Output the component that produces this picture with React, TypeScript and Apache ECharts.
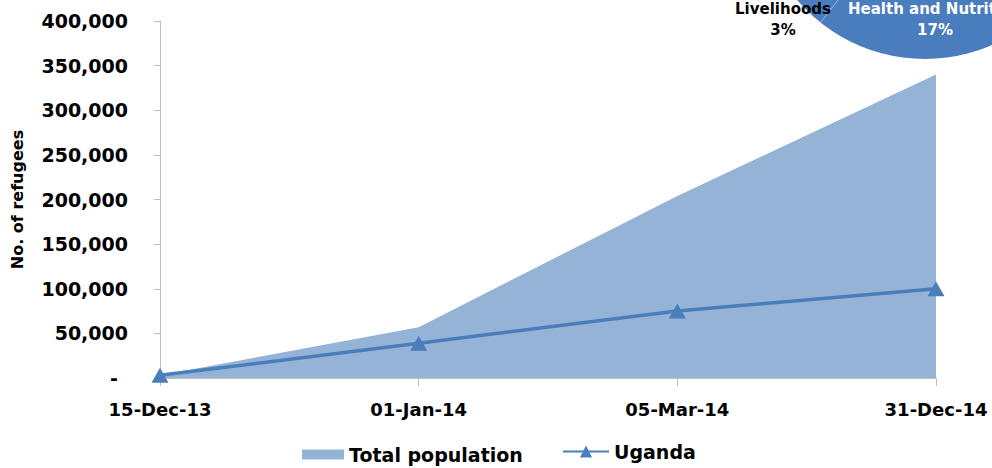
import React, { useEffect, useRef } from "react";
import * as echarts from "echarts";

const categories = ["15-Dec-13", "01-Jan-14", "05-Mar-14", "31-Dec-14"];
const totalPopulation = [3000, 57000, 204000, 340000];
const uganda = [3000, 39000, 75000, 100000];
const yTicks = { min: 0, max: 400000, interval: 50000 };
const pieLabels = [
  { name: "Livelihoods", pct: "3%" },
  { name: "Health and Nutrition", pct: "17%" },
];

const FONT = "DejaVu Sans";

export default function App() {
  const ref = useRef<HTMLDivElement>(null);
  useEffect(() => {
    if (!ref.current) return;
    const chart = echarts.init(ref.current, undefined, { renderer: "svg" });
    const fmt = (v: number) =>
      v === 0 ? "{d|-}" : v.toLocaleString("en-US");
    chart.setOption({
      animation: false,
      backgroundColor: "#ffffff",
      textStyle: { fontFamily: FONT },
      grid: {
        left: 160,
        right: 56,
        top: 21,
        bottom: 90,
        containLabel: false,
        outerBoundsMode: "none",
      },
      legend: [
        {
          data: [{ name: "Total population", icon: "rect" }],
          left: 297,
          top: 440,
          itemWidth: 42,
          itemHeight: 10,
          itemGap: 8,
          textStyle: { fontFamily: FONT, fontWeight: "bold", fontSize: 19, color: "#000" },
        },
        {
          data: [{ name: "Uganda" }],
          left: 557,
          top: 437,
          itemWidth: 46,
          itemHeight: 15,
          itemGap: 5,
          textStyle: { fontFamily: FONT, fontWeight: "bold", fontSize: 19, color: "#000" },
        },
      ],
      xAxis: {
        type: "category",
        data: categories,
        boundaryGap: false,
        axisLine: { lineStyle: { color: "#bfbfbf", width: 1 } },
        axisTick: { show: true, length: 8, lineStyle: { color: "#bfbfbf" } },
        axisLabel: {
          color: "#000",
          fontFamily: FONT,
          fontWeight: "bold",
          fontSize: 18,
          margin: 22,
        },
        splitLine: { show: false },
      },
      yAxis: {
        type: "value",
        min: yTicks.min,
        max: yTicks.max,
        interval: yTicks.interval,
        name: "No. of refugees",
        nameLocation: "middle",
        nameGap: 135,
        nameRotate: 90,
        nameTextStyle: { color: "#000", fontFamily: FONT, fontWeight: "bold", fontSize: 16 },
        axisLine: { show: true, lineStyle: { color: "#bfbfbf", width: 1 } },
        axisTick: { show: true, length: 6, lineStyle: { color: "#bfbfbf" } },
        splitLine: { show: false },
        axisLabel: {
          color: "#000",
          fontFamily: FONT,
          fontWeight: "bold",
          fontSize: 19,
          margin: 32,
          formatter: fmt,
          rich: { d: { fontFamily: FONT, fontWeight: "bold", fontSize: 19, color: "#000", padding: [0, 10, 0, 0] } },
        },
      },
      series: [
        {
          name: "Total population",
          type: "line",
          data: totalPopulation,
          showSymbol: false,
          symbol: "none",
          lineStyle: { width: 0, color: "#95b3d7" },
          itemStyle: { color: "#95b3d7" },
          areaStyle: { color: "#95b3d7", opacity: 1 },
          z: 1,
        },
        {
          name: "Uganda",
          type: "line",
          data: uganda,
          symbol: "triangle",
          symbolSize: [17, 15],
          lineStyle: { width: 3.5, color: "#4a7ebb" },
          itemStyle: { color: "#4a7ebb" },
          z: 3,
        },
      ],
      graphic: [
        {
          type: "circle",
          shape: { cx: 925, cy: -109, r: 168 },
          style: { fill: "#4a7dbd" },
          z: 10,
        },
        {
          type: "line",
          shape: { x1: 838, y1: 0, x2: 821, y2: 22 },
          style: { stroke: "rgba(255,255,255,0.45)", lineWidth: 1 },
          z: 11,
        },
        {
          type: "text",
          x: 783,
          y: 9,
          style: {
            text: pieLabels[0].name,
            fill: "#000",
            font: `bold 15px "${FONT}"`,
            align: "center",
            verticalAlign: "middle",
          },
          z: 12,
        },
        {
          type: "text",
          x: 783,
          y: 30,
          style: {
            text: pieLabels[0].pct,
            fill: "#000",
            font: `bold 15px "${FONT}"`,
            align: "center",
            verticalAlign: "middle",
          },
          z: 12,
        },
        {
          type: "text",
          x: 848,
          y: 9,
          style: {
            text: pieLabels[1].name,
            fill: "#ffffff",
            font: `bold 15px "${FONT}"`,
            align: "left",
            verticalAlign: "middle",
          },
          z: 12,
        },
        {
          type: "text",
          x: 935,
          y: 30,
          style: {
            text: pieLabels[1].pct,
            fill: "#ffffff",
            font: `bold 15px "${FONT}"`,
            align: "center",
            verticalAlign: "middle",
          },
          z: 12,
        },
      ],
    });
    return () => chart.dispose();
  }, []);
  return <div ref={ref} style={{ width: 992, height: 468, position: "fixed", left: 0, top: 0 }} />;
}
